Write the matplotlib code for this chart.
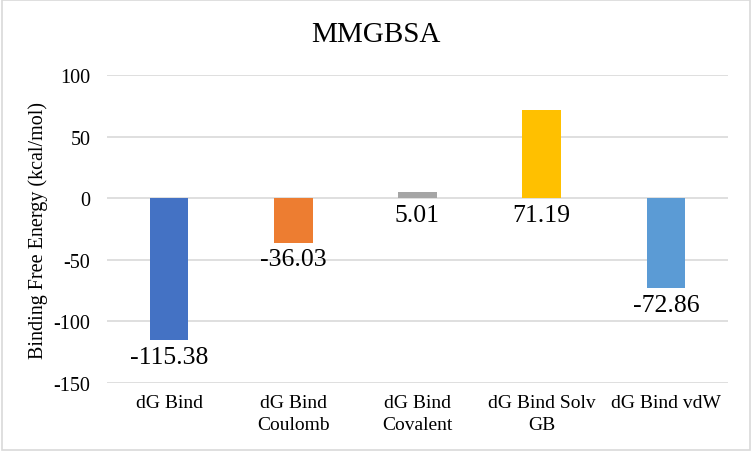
import numpy as np
import matplotlib
matplotlib.use("Agg")
import matplotlib.pyplot as plt
from matplotlib.patches import Rectangle

plt.rcParams['font.family'] = ['Liberation Serif', 'DejaVu Serif']

categories = ["dG Bind", "dG Bind\nCoulomb", "dG Bind\nCovalent", "dG Bind Solv\nGB", "dG Bind vdW"]
values = [-115.38, -36.03, 5.01, 71.19, -72.86]
colors = ['#4472C4', '#ED7D31', '#A5A5A5', '#FFC000', '#5B9BD5']
yticks = [-150, -100, -50, 0, 50, 100]

fig = plt.figure(figsize=(7.52, 4.52), dpi=100)
ax = fig.add_axes([0.1423, 0.1504, 0.968 - 0.1423, 0.8319 - 0.1504])

x = np.arange(len(values))
ax.bar(x, values, width=0.31, color=colors, zorder=3)

for xi, v in zip(x, values):
    base = min(0, v)
    ax.annotate(f"{v:.2f}", (xi, base), xytext=(0, -4), textcoords='offset points',
                ha='center', va='top', fontsize=18.5, zorder=4)

ax.set_xlim(-0.5, len(values) - 0.5)
ax.set_ylim(-150, 100)
ax.set_yticks(yticks)
ax.set_yticklabels([str(t) for t in yticks], fontsize=14.5)
ax.set_xticks(x)
ax.set_xticklabels(categories, fontsize=14, linespacing=1.35)
ax.tick_params(axis='both', length=0)
ax.tick_params(axis='y', pad=12)
ax.tick_params(axis='x', pad=8)
ax.grid(axis='y', color='#D9D9D9', lw=1.2, zorder=0)
for s in ax.spines.values():
    s.set_visible(False)

ax.set_ylabel("Binding Free Energy (kcal/mol)", fontsize=14.5, labelpad=4)
fig.text(0.5, 1 - 35 / 452, "MMGBSA", ha='center', va='center', fontsize=21)

fig.patches.append(Rectangle((0.002, 0.003), 0.996, 0.994, transform=fig.transFigure,
                             fill=False, edgecolor='#D9D9D9', lw=1.2))

plt.savefig('out.png', dpi=100)
